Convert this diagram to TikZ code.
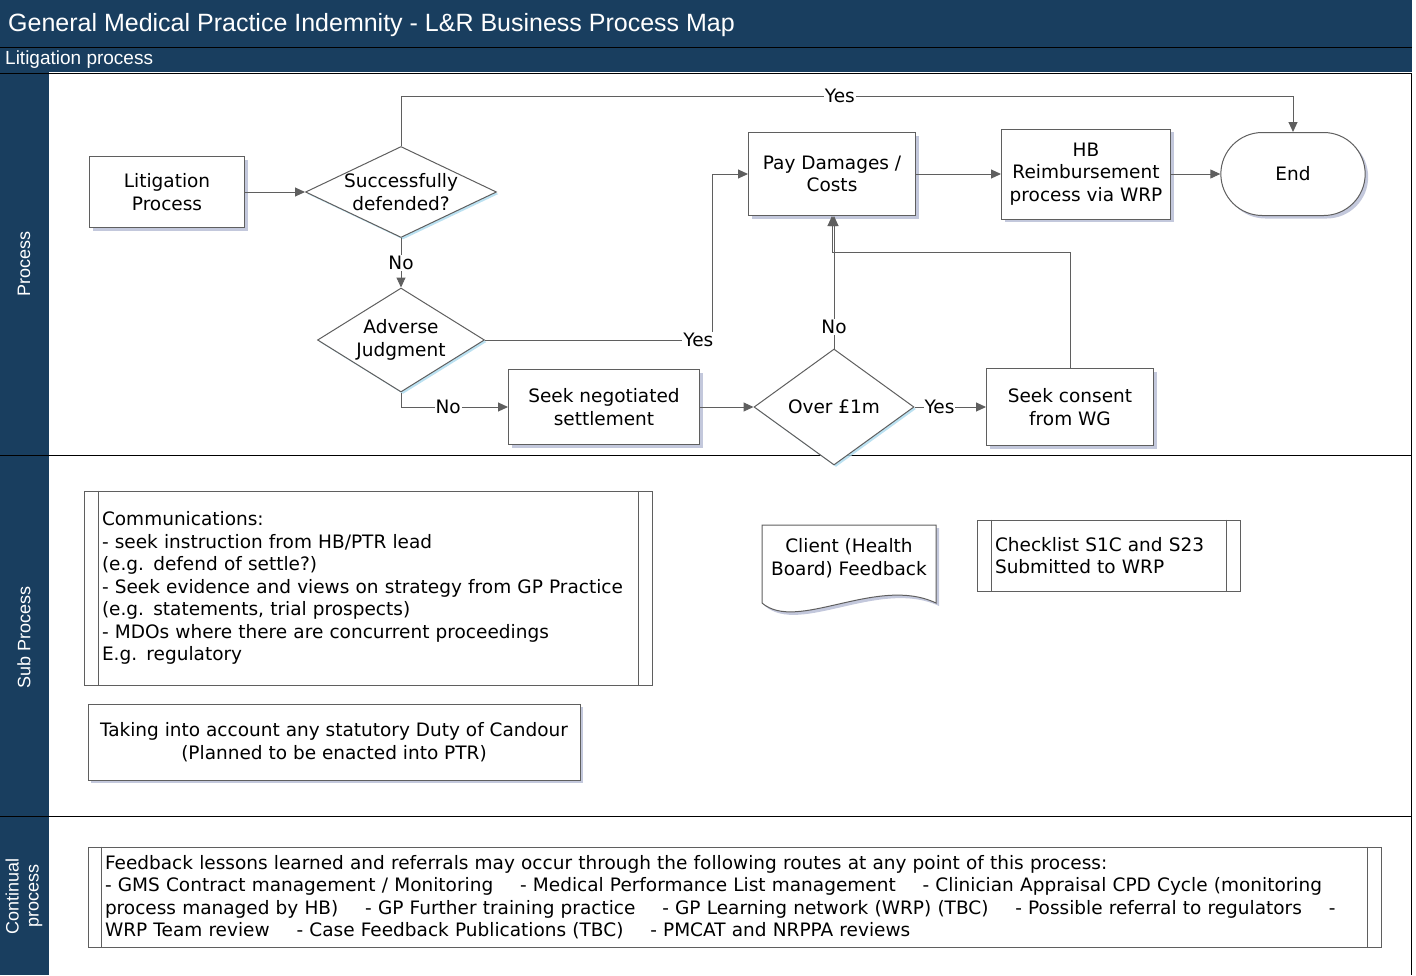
\documentclass[tikz,border=0pt]{standalone}
\usepackage{fontspec}
\setmainfont{DejaVu Sans}
\newfontfamily\headfont{Liberation Sans}
\newfontfamily\lanefont{Liberation Sans}
\usetikzlibrary{arrows.meta,positioning,shapes.geometric,shapes.misc,shadows}
\definecolor{barcol}{RGB}{25,62,95}
\definecolor{linecol}{RGB}{95,95,95}
\definecolor{shadecol}{RGB}{170,176,205}
\definecolor{glowcol}{RGB}{170,218,238}
\tikzstyle{proc}=[draw=linecol, fill=white, line width=1pt, align=center, drop shadow={shadow xshift=3pt, shadow yshift=-3pt, fill=shadecol, opacity=.7}]
\tikzstyle{decision}=[diamond, draw=linecol, fill=white, line width=1pt, inner sep=0pt, drop shadow={shadow xshift=2pt, shadow yshift=-2pt, fill=glowcol, opacity=.8}]
\tikzstyle{term}=[rounded rectangle, draw=linecol, fill=white, line width=1pt, drop shadow={shadow xshift=3pt, shadow yshift=-3pt, fill=shadecol, opacity=.7}]
\tikzstyle{subproc}=[draw=linecol, fill=white, line width=1pt, align=left]
\tikzstyle{flow}=[draw=linecol, line width=1pt, -{Triangle[length=10pt,width=9pt]}]
\tikzstyle{lab}=[fill=white, inner sep=1pt]
\tikzstyle{lane}=[text=white, rotate=90, align=center, font=\lanefont\fontsize{18}{20}\selectfont]
\newcommand{\itemgap}{\hspace{1.45em}}

\begin{document}
\begin{tikzpicture}[x=1pt,y=-1pt,font=\fontsize{18.5}{22.5}\selectfont,node distance=234pt]
\useasboundingbox (0,0) rectangle (1416,975);
% frame and lanes
\fill[barcol] (0,0) rectangle (1412,72);
\fill[barcol] (0,72) rectangle (49,975);
\draw[black, line width=1pt] (0,47.5) -- (1412,47.5);
\draw[black, line width=1pt] (0,73) -- (1411,73) -- (1411,975);
\draw[black, line width=1pt] (0,455) -- (1411,455);
\draw[black, line width=1pt] (0,816) -- (1411,816);
\node[anchor=west, text=white, font=\headfont\fontsize{25}{30}\selectfont, inner sep=0pt] (title) at (8,25) {General Medical Practice Indemnity - L\&R Business Process Map};
\node[anchor=west, text=white, font=\headfont\fontsize{19}{21}\selectfont, inner sep=0pt] (subtitle) at (5,60) {Litigation process};
\node[lane] (lproc) at (24,264) {Process};
\node[lane] (lsub) at (24,637) {Sub Process};
\node[lane] (lcont) at (24,896) {Continual\\process};

% process lane
\node[proc, minimum width=155, minimum height=71] (lit) at (167,192) {Litigation\\Process};
\node[decision, minimum width=191, minimum height=91, label={[align=center]center:{Successfully\\defended?}}] (sd) [right of=lit] {};
\node[decision, minimum width=167, minimum height=104, label={[align=center]center:{Adverse\\Judgment}}] (aj) [below of=sd,node distance=148pt] {};
\node[proc, minimum width=191, minimum height=75] (sns) at (604,407) {Seek negotiated\\settlement};
\node[decision, minimum width=160, minimum height=116, label={[align=center]center:{Over \pounds1m}}] (over) [right of=sns,node distance=230pt] {};
\node[proc, minimum width=167, minimum height=77] (wg) [right of=over,node distance=236pt] {Seek consent\\from WG};
\node[proc, minimum width=167, minimum height=83] (pay) at (832,174) {Pay Damages /\\Costs};
\node[proc, minimum width=169, minimum height=90] (hb) [right of=pay,node distance=254pt] {HB\\Reimbursement\\process via WRP};
\node[term, minimum width=151, minimum height=83] (end) [right of=hb,node distance=207pt] {End};

\draw[flow] (lit) -- (sd);
\draw[flow] (sd.north) |- ([yshift=36pt]end.north) node[lab, pos=0.746] {Yes} -- (end.north);
\draw[flow] (sd) -- node[lab] {No} (aj);
\draw[flow] (aj.east) -| node[lab, pos=0.47] {Yes} ([xshift=-36pt]pay.west) -- (pay.west);
\draw[flow] (aj.south) |- node[lab, pos=0.72] {No} (sns.west);
\draw[flow] (sns) -- (over);
\draw[flow] (over) -- node[lab, pos=0.35] {Yes} (wg);
\draw[flow] (over.north) -- node[lab, pos=0.16] {No} (over.north |- pay.south);
\draw[flow] (wg.north) |- ([yshift=-36pt]pay.south) -- (pay.south);
\draw[flow] (pay) -- (hb);
\draw[flow] (hb) -- (end);

% sub process lane
\node[subproc, minimum width=568, minimum height=194, text width=532] (comm) at (368,588) {Communications:\\- seek instruction from HB/PTR lead\\(e.g. defend of settle?)\\- Seek evidence and views on strategy from GP Practice\\(e.g. statements, trial prospects)\\- MDOs where there are concurrent proceedings\\E.g. regulatory};
\draw[linecol, line width=1pt] ([xshift=15pt]comm.north west) -- ([xshift=15pt]comm.south west);
\draw[linecol, line width=1pt] ([xshift=-14pt]comm.north east) -- ([xshift=-14pt]comm.south east);
\node[proc, minimum width=492, minimum height=76] (candour) at (334,742) {Taking into account any statutory Duty of Candour\\(Planned to be enacted into PTR)};
\fill[shadecol, opacity=.7] (765,528) -- (939,528) -- (939,606) .. controls (880,578) and (800,636) .. (765,606) -- cycle;
\filldraw[draw=linecol, fill=white, line width=1pt] (762,525) -- (936,525) -- (936,603) .. controls (877,575) and (797,633) .. (762,603) -- cycle;
\node[align=center] (client) at (849,558) {Client (Health\\Board) Feedback};
\node[subproc, minimum width=263, minimum height=71, text width=227] (check) at (1108.5,555.5) {Checklist S1C and S23\\Submitted to WRP};
\draw[linecol, line width=1pt] ([xshift=15pt]check.north west) -- ([xshift=15pt]check.south west);
\draw[linecol, line width=1pt] ([xshift=-14pt]check.north east) -- ([xshift=-14pt]check.south east);

% continual lane
\node[subproc, minimum width=1293, minimum height=100, text width=1259] (cont) at (734.5,897) {Feedback lessons learned and referrals may occur through the following routes at any point of this process:\\- GMS Contract management / Monitoring\itemgap- Medical Performance List management\itemgap- Clinician Appraisal CPD Cycle (monitoring\\process managed by HB)\itemgap- GP Further training practice\itemgap- GP Learning network (WRP) (TBC)\itemgap- Possible referral to regulators\itemgap-\\WRP Team review\itemgap- Case Feedback Publications (TBC)\itemgap- PMCAT and NRPPA reviews};
\draw[linecol, line width=1pt] ([xshift=14pt]cont.north west) -- ([xshift=14pt]cont.south west);
\draw[linecol, line width=1pt] ([xshift=-14pt]cont.north east) -- ([xshift=-14pt]cont.south east);
\end{tikzpicture}
\end{document}
